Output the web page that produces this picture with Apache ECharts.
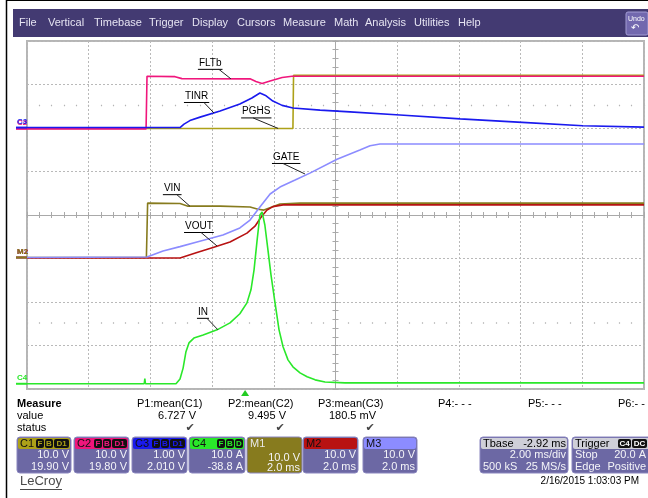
<!DOCTYPE html>
<html><head><meta charset="utf-8">
<script src="https://cdn.jsdelivr.net/npm/echarts@6/dist/echarts.min.js"></script>
<style>html,body{margin:0;padding:0;background:#fff}#c{width:648px;height:498px}</style>
</head><body><div id="c"></div>
<script>
// ---------- DATA (time in ms from the left edge of the screen, 2 ms/div) ----------
// C1  PGHS (V)
const pghs = [[0,0],[8.62,0],[8.64,12.2],[20,12.2]];
// C2  FLTb (V)
const fltb = [[0,0],[3.86,0],[3.89,12.1],[4.80,12.0],[5.02,11.55],[7.23,11.5],[7.42,10.9],[7.62,10.45],[7.88,11.0],[8.27,11.8],[8.59,12.1],[20,12.1]];
// C3  TINR (V)
const tinr = [[0,0],[4.96,0],[5.09,0.08],[5.28,0.16],[5.61,0.24],[6.26,0.38],[6.90,0.54],[7.29,0.68],[7.55,0.795],[7.75,0.73],[7.97,0.61],[8.27,0.51],[8.62,0.45],[9.50,0.40],[10.47,0.36],[12.09,0.29],[14.04,0.20],[16.05,0.12],[18.02,0.04],[20,0.01]];
// C4  IN (A)
const iin = [[0,0],[3.80,0],[3.82,1.2],[3.84,0],[4.83,0],[4.96,1.1],[5.06,3.6],[5.15,7.3],[5.25,9.4],[5.41,10.5],[5.71,11.2],[6.16,12.4],[6.58,14.0],[6.90,16.1],[7.13,18.6],[7.26,21.6],[7.36,26.2],[7.46,33.1],[7.55,38.8],[7.62,39.5],[7.71,36.5],[7.81,30.8],[7.91,25.0],[8.04,18.6],[8.17,12.4],[8.30,8.5],[8.46,5.5],[8.62,3.9],[8.85,2.5],[9.08,1.6],[9.34,0.9],[9.66,0.4],[10.31,0.2],[20,0.2]];
// M1  VIN (V)
const vin = [[0,0],[3.87,0],[3.91,12.5],[4.96,12.4],[5.22,11.8],[6.26,11.8],[7.23,11.6],[7.49,11.1],[7.68,10.9],[7.94,11.6],[8.20,12.3],[8.85,12.5],[20,12.5]];
// M2  VOUT (V)
const vout = [[0,-0.1],[4.96,-0.1],[5.51,1.15],[6.03,2.3],[6.58,3.56],[7.13,5.6],[7.39,7.2],[7.59,9.3],[7.78,10.9],[7.97,11.7],[8.30,12.1],[20,12.1]];
// M3  GATE (V)
const gate = [[0,0],[3.89,0.1],[4.41,1.5],[4.96,2.5],[5.51,3.56],[6.35,5.17],[6.90,6.8],[7.23,8.6],[7.55,11.6],[7.88,14.6],[8.20,16.2],[8.69,17.8],[9.17,19.4],[10.05,22.6],[10.79,24.7],[11.12,25.7],[11.44,26.1],[20,26.1]];

// channel settings (from the on-screen descriptors)
const chNames   = ['C1','C2','C3','C4','M1','M2','M3'];
const voltsDiv  = [10, 10, 1, 10, 10, 10, 10];
const offsets   = [19.90, 19.80, 2.010, -38.8, -9.77, -9.77, -9.77];
const chColors  = ['#ada118','#f0167c','#1a1aee','#2ae82a','#877b1e','#b81212','#8c8cff'];

// traces: name, data, channel index
const traceNames = ['PGHS','FLTb','TINR','VIN','VOUT','GATE','IN'];
const traceData  = [pghs, fltb, tinr, vin, vout, gate, iin];
const traceCh    = [0, 1, 2, 4, 5, 6, 3];

// annotation tips (time ms, value in the trace's units), same order as traceNames
const annoTips = [[8.14,0],[6.61,11.5],[6.06,0.335],[5.28,11.8],[6.16,2.64],[9.01,19.2],[6.19,12.4]];

// measurements
const measLabels = ['P1:mean(C1)','P2:mean(C2)','P3:mean(C3)','P4:- - -','P5:- - -','P6:- - -'];
const measValues = ['6.727 V','9.495 V','180.5 mV','','',''];
const trigTime = 7.07;

// ---------- layout / style (not data) ----------
const annoOffsets = [[-36,-17,11],[-32,-16,20],[-29,-17,19],[-26,-18,13],[-32,-20,16],[-32,-17,10],[-20,-18,9]];
const gridC = '#b9b9b9', axisC = '#a9a9a9';
const F = 'Liberation Sans, Arial, sans-serif';

const chart = echarts.init(document.getElementById('c'), null, {renderer:'canvas'});

function centerX(inside){return {type:'value',min:0,max:20,interval:0.4,position:'bottom',
  axisLine:{show:true,onZero:true,onZeroAxisIndex:0,lineStyle:{color:axisC,width:1}},
  axisTick:{show:true,inside:inside,length:3,lineStyle:{color:axisC,width:1}},
  axisLabel:{show:false},splitLine:{show:false}};}
function dotRow(yi){return {type:'value',min:0,max:20,interval:0.4,position:'bottom',
  axisLine:{show:true,onZero:true,onZeroAxisIndex:yi,lineStyle:{opacity:0}},
  axisTick:{show:true,inside:true,length:1.5,lineStyle:{color:'#b4b4b4',width:1.2}},
  axisLabel:{show:false},splitLine:{show:false}};}
function centerY(inside){return {type:'value',min:-4,max:4,interval:0.2,position:'left',
  axisLine:{show:true,onZero:true,onZeroAxisIndex:5,lineStyle:{color:axisC,width:1}},
  axisTick:{show:true,inside:inside,length:3,lineStyle:{color:axisC,width:1}},
  axisLabel:{show:false},splitLine:{show:false}};}

const xAxes = [
  {type:'value',min:0,max:20,interval:2,axisLine:{show:false,onZero:false},axisTick:{show:false},axisLabel:{show:false},
   splitLine:{show:true,lineStyle:{color:gridC,type:[2,2],width:1}}},
  centerX(true), centerX(false), dotRow(1), dotRow(2),
  {type:'value',min:-10,max:10,show:false}
];
const yAxes = [
  {type:'value',min:-4,max:4,interval:1,axisLine:{show:false,onZero:false},axisTick:{show:false},axisLabel:{show:false},
   splitLine:{show:true,lineStyle:{color:gridC,type:[2,2],width:1}}},
  {type:'value',min:-6.5,max:1.5,show:false},
  {type:'value',min:-1.5,max:6.5,show:false},
  centerY(true), centerY(false)
].concat(chNames.map((n,i)=>({type:'value',show:false,min:-4*voltsDiv[i]-offsets[i],max:4*voltsDiv[i]-offsets[i]})));

const series = traceNames.map((n,i)=>({
  type:'line', name:n, data:traceData[i], xAxisIndex:0, yAxisIndex:5+traceCh[i],
  showSymbol:false, symbol:'none', animation:false, z:2+i,
  lineStyle:{color:chColors[traceCh[i]], width:1.6}
}));

chart.setOption({
  animation:false, backgroundColor:'#ffffff',
  grid:{left:27,top:41,width:617,height:348,show:true,borderColor:'#b5b5b5',borderWidth:2,backgroundColor:'#fff',outerBoundsMode:'none',containLabel:false},
  xAxis:xAxes, yAxis:yAxes, series:series
});

// ---------- graphics ----------
const g = [];
function T(text,x,y,o){o=o||{};g.push({type:'text',x:x,y:y,z:100,silent:true,style:{text:text,font:o.font||('11px '+F),fill:o.fill||'#000',
  align:o.align||'left',textAlign:o.align||'left',verticalAlign:'middle',textVerticalAlign:'middle'}});}
function R(x,y,w,h,fill,o){o=o||{};g.push({type:'rect',z:o.z||90,silent:true,shape:{x:x,y:y,width:w,height:h,r:o.r||0},style:{fill:fill,stroke:o.stroke||null,lineWidth:o.lw||1}});}
function L(x1,y1,x2,y2,c,w){g.push({type:'line',z:100,silent:true,shape:{x1:x1,y1:y1,x2:x2,y2:y2},style:{stroke:c,lineWidth:w||1}});}

// outer frame
L(6.5,0,6.5,498,'#000',1.5); L(6,0.5,648,0.5,'#000',1);
// menu bar
R(13,9,635,28,'#433a72');
const menu = ['File','Vertical','Timebase','Trigger','Display','Cursors','Measure','Math','Analysis','Utilities','Help'];
const menuX = [19,48,94,149,192,237,283,334,365,414,458];
menu.forEach((m,i)=>T(m,menuX[i],23,{fill:'#e6e4f2',font:'11px '+F}));
R(626,12,22,23,'#7268ae',{stroke:'#a39cd4',r:2});
T('Undo',628,19,{fill:'#fff',font:'7px '+F});
T('\u21B6',631,28,{fill:'#fff',font:'10px DejaVu Sans'});

// measurement area
T('Measure',17,404,{font:'bold 11px '+F});
T('value',17,416); T('status',17,428);
const measX = [137,228,318,438,528,618];
const measR = [196,286,376];
measLabels.forEach((m,i)=>T(m,measX[i],404));
measValues.forEach((v,i)=>{ if(v){ T(v,measR[i],416,{align:'right'}); T('\u2714',measR[i]-6,428,{align:'center',fill:'#444',font:'11px DejaVu Sans'}); }});

// channel boxes
function badge(x,y,w,txt,col){R(x,y,w,9,'#111',{r:2,z:95}); T(txt,x+w/2,y+4.8,{align:'center',fill:col,font:'bold 8px '+F});}
function chBox(x,w,head,title,titleCol,badges,l1,l2,full){
  R(x,437,w,36,full?head:'#6c68a4',{stroke:'#8a86bf',r:3});
  R(x+1,438,w-2,11,head,{r:2,z:91});
  T(title,x+3,443.5,{fill:titleCol,font:'11px '+F});
  let bx = x+w-2;
  for(let k=badges.length-1;k>=0;k--){const bw = badges[k].length>1?15:8; bx-=bw; badge(bx,439,bw,badges[k],head); bx-=1;}
  T(l1,x+w-2,full?458:455,{align:'right',fill:'#f4f4f8'});
  T(l2,x+w-2,full?468:467,{align:'right',fill:'#f4f4f8'});
}
const boxX = [17,74,132,189,247,303,363];
const boxW = [54,55,55,56,55,55,54];
const boxL1 = ['10.0 V','10.0 V','1.00 V','10.0 A','10.0 V','10.0 V','10.0 V'];
const boxL2 = ['19.90 V','19.80 V','2.010 V','-38.8 A','2.0 ms','2.0 ms','2.0 ms'];
const boxBadges = [['F','B','D1'],['F','B','D1'],['F','B','D1'],['F','B','D'],[],[],[]];
const boxTitleCol = ['#111','#111','#111','#111','#e8e8e8','#111','#111'];
chNames.forEach((n,i)=>chBox(boxX[i],boxW[i],chColors[i],n,boxTitleCol[i],boxBadges[i],boxL1[i],boxL2[i],i===4));
// Tbase
R(480,437,88,36,'#6c68a4',{stroke:'#8a86bf',r:3});
R(481,438,86,11,'#cfcfd8',{r:2,z:91});
T('Tbase',483,443.5); T('-2.92 ms',566,443.5,{align:'right'});
T('2.00 ms/div',566,455,{align:'right',fill:'#f4f4f8'});
T('500 kS',483,467,{fill:'#f4f4f8'}); T('25 MS/s',566,467,{align:'right',fill:'#f4f4f8'});
// Trigger
R(572,437,80,36,'#6c68a4',{stroke:'#8a86bf',r:3});
R(573,438,78,11,'#cfcfd8',{r:2,z:91});
T('Trigger',575,443.5);
badge(618,439,13,'C4','#fff'); badge(632,439,15,'DC','#fff');
T('Stop',575,455,{fill:'#f4f4f8'}); T('20.0 A',646,455,{align:'right',fill:'#f4f4f8'});
T('Edge',575,467,{fill:'#f4f4f8'}); T('Positive',646,467,{align:'right',fill:'#f4f4f8'});
// date, logo
T('2/16/2015 1:03:03 PM',639,481,{font:'10px '+F,align:'right'});
T('LeCroy',20,481,{font:'13px '+F,fill:'#4a4a4a'});
L(20,489.5,62,489.5,'#4a4a4a',1);

// trigger marker
const tx = chart.convertToPixel({xAxisIndex:0},trigTime);
g.push({type:'polygon',z:100,silent:true,shape:{points:[[tx-4,396],[tx+4,396],[tx,390]]},style:{fill:'#22cc22'}});

// channel ground markers on left edge
const markerOrder = [6,5,4,1,2,3];
markerOrder.forEach(ci=>{
  const si = traceCh.indexOf(ci);
  const y0 = chart.convertToPixel({seriesIndex:si},[0,0])[1];
  L(16,y0,27,y0,chColors[ci],2);
  T(chNames[ci],17,y0-6,{fill:chColors[ci],font:'bold 8px '+F});
});

// annotations
const mctx = document.createElement('canvas').getContext('2d');
const aFont = '10px '+F; mctx.font = aFont;
traceNames.forEach((n,i)=>{
  const p = chart.convertToPixel({seriesIndex:i},annoTips[i]);
  const o = annoOffsets[i];
  const x = p[0]+o[0], y = p[1]+o[1];
  const w = mctx.measureText(n).width;
  T(n,x,y,{font:aFont});
  L(x-1,y+6.5,x+w+1,y+6.5,'#000',1);
  L(x+o[2],y+6.5,p[0],p[1],'#222',1);
});

chart.setOption({graphic:{elements:g}});
</script></body></html>
